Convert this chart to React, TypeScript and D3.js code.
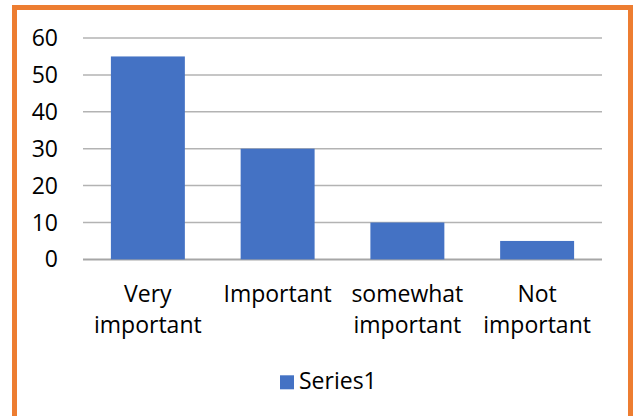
import React from "react";
import * as d3 from "d3";

const categories: string[][] = [
  ["Very", "important"],
  ["Important"],
  ["somewhat", "important"],
  ["Not", "important"],
];
const series1: number[] = [55, 30, 10, 5];
const yTicks: number[] = [0, 10, 20, 30, 40, 50, 60];
const seriesName = "Series1";

const W = 633;
const H = 416;
const FONT = "'Open Sans', sans-serif";
const FS = 23;

export default function App() {
  const x = d3
    .scaleBand<number>()
    .domain(categories.map((_, i) => i))
    .range([83, 602])
    .paddingInner(0.43)
    .paddingOuter(0.215);
  const y = d3.scaleLinear().domain([0, 60]).range([259.4, 38]);

  return (
    <svg
      width={W}
      height={H}
      style={{ position: "absolute", left: 0, top: 0, background: "#fff" }}
    >
      <rect x={14.5} y={7.5} width={616} height={420} fill="#fff" stroke="#ED7D31" strokeWidth={5} />
      {yTicks.map((t) => (
        <g key={t}>
          <line
            x1={83}
            x2={602}
            y1={y(t)}
            y2={y(t)}
            stroke={t === 0 ? "#a6a6a6" : "#b3b3b3"}
            strokeWidth={t === 0 ? 2 : 1.5}
          />
          <text
            x={58}
            y={y(t)}
            dy="0.35em"
            textAnchor="end"
            fontFamily={FONT}
            fontSize={FS}
            fill="#000"
          >
            {t}
          </text>
        </g>
      ))}
      {series1.map((v, i) => (
        <rect
          key={i}
          x={x(i)}
          y={y(v)}
          width={x.bandwidth()}
          height={y(0) - y(v)}
          fill="#4472C4"
        />
      ))}
      {categories.map((lines, i) => (
        <text
          key={i}
          x={(x(i) as number) + x.bandwidth() / 2}
          y={301.7}
          textAnchor="middle"
          fontFamily={FONT}
          fontSize={FS}
          fill="#000"
        >
          {lines.map((l, j) => (
            <tspan key={j} x={(x(i) as number) + x.bandwidth() / 2} dy={j === 0 ? 0 : 31.5}>
              {l}
            </tspan>
          ))}
        </text>
      ))}
      <rect x={280} y={375.3} width={14} height={14} fill="#4472C4" />
      <text x={299} y={389.3} fontFamily={FONT} fontSize={FS} fill="#000">
        {seriesName}
      </text>
    </svg>
  );
}
